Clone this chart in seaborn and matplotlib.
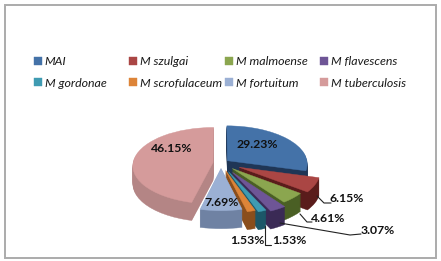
import numpy as np
import matplotlib
matplotlib.use('Agg')
import matplotlib.pyplot as plt
from matplotlib.patches import Rectangle
from matplotlib.transforms import Transform
from matplotlib.path import Path
import seaborn as sns

species = ['MAI', 'M szulgai', 'M malmoense', 'M flavescens',
           'M gordonae', 'M scrofulaceum', 'M fortuitum', 'M tuberculosis']
shares = [29.23, 6.15, 4.61, 3.07, 1.53, 1.53, 7.69, 46.15]
share_labels = ['29.23%', '6.15%', '4.61%', '3.07%', '1.53%', '1.53%', '7.69%', '46.15%']

top_colors = ['#4472A8', '#AA4644', '#8BA64F', '#6E5596', '#3F9BB2', '#DD8438', '#9BB0D4', '#D59B9B']
side_colors = ['#1F3656', '#5A1C1B', '#4A5F24', '#3A2A55', '#1C5768', '#8A4E1C', '#6F82A3', '#B48585']
explode = [0.10, 0.25, 0.20, 0.28, 0.24, 0.20, 0.14, 0.10]

CX, CY = 221, 163
RX, RY = 80, 38
TILT = 0.08
DEPTH = 18


class Tilt(Transform):
    # lays the flat pie down on the page, near edge a bit bigger
    input_dims = output_dims = 2

    def __init__(self, drop=0):
        super().__init__()
        self.drop = drop

    def transform_non_affine(self, xy):
        xy = np.asarray(xy)
        s = 1 / (1 + TILT * xy[:, 1])
        return np.c_[CX + xy[:, 0] * s * RX, CY - xy[:, 1] * s * RY + self.drop]

    def transform_path_non_affine(self, path):
        return Path(self.transform_non_affine(path.vertices), path.codes)


sns.set_theme(style='white')
plt.rcParams['font.family'] = ['Lato', 'DejaVu Sans']

fig, ax = plt.subplots(figsize=(4.41, 2.61), dpi=100)
fig.subplots_adjust(0, 0, 1, 1)
ax.axis('off')

# back slices first, front ones over them
mid = (np.cumsum(shares) - np.array(shares) / 2) / sum(shares) * 2 * np.pi
order = np.cos(mid)
top_wedges = None
for drop in range(DEPTH, -1, -1):
    colors = top_colors if drop == 0 else side_colors
    wedges, _ = ax.pie(shares, explode=explode, colors=sns.color_palette(colors),
                       startangle=90, counterclock=False, frame=True,
                       wedgeprops=dict(linewidth=0.3, edgecolor='none'))
    for w, o, c in zip(wedges, order, colors):
        w.set_transform(Tilt(drop) + ax.transData)
        w.set_edgecolor(c)
        w.set_zorder(3 - o + (DEPTH - drop) * 0.001)
        w.set_clip_on(False)
    top_wedges = wedges

ax.set_aspect('auto')
ax.set_xlim(0, 441)
ax.set_ylim(261, 0)
ax.set_xticks([])
ax.set_yticks([])

ax.add_patch(Rectangle((5, 5), 430.5, 253, fill=False, edgecolor='#ABABAB', linewidth=1.4, zorder=1))

# legend columns sit on an even grid, so one legend per column
for i, x in enumerate([34, 129, 225, 320]):
    pair = [i, i + 4]
    leg = ax.legend([top_wedges[j] for j in pair], [species[j] for j in pair],
                    loc='upper left', bbox_to_anchor=(x, 56), bbox_transform=ax.transData,
                    frameon=False, prop=dict(style='italic', size=8.9), labelcolor='#1A1A1A',
                    handlelength=0.62, handleheight=0.62, handletextpad=0.25,
                    labelspacing=0.85, borderpad=0, borderaxespad=0)
    ax.add_artist(leg)
    ax.legend_ = None

label_pos = [(257, 144), (347, 199), (328, 218), (378, 231), (289, 241), (247, 241), (222, 203), (172, 149)]
for txt, (x, y) in zip(share_labels, label_pos):
    ax.text(x, y, txt, ha='center', va='center', fontsize=8.8, fontweight='bold',
            color='#111111', zorder=10)

leaders = [([317, 324, 331], [196, 203, 203]),
           ([300, 307, 312], [214, 222, 222]),
           ([280, 350, 361], [223, 235, 234]),
           ([265, 265, 271], [226, 245, 245])]
for lx, ly in leaders:
    ax.plot(lx, ly, color='#222222', linewidth=0.8, zorder=9)

fig.savefig('out.png', dpi=100)
